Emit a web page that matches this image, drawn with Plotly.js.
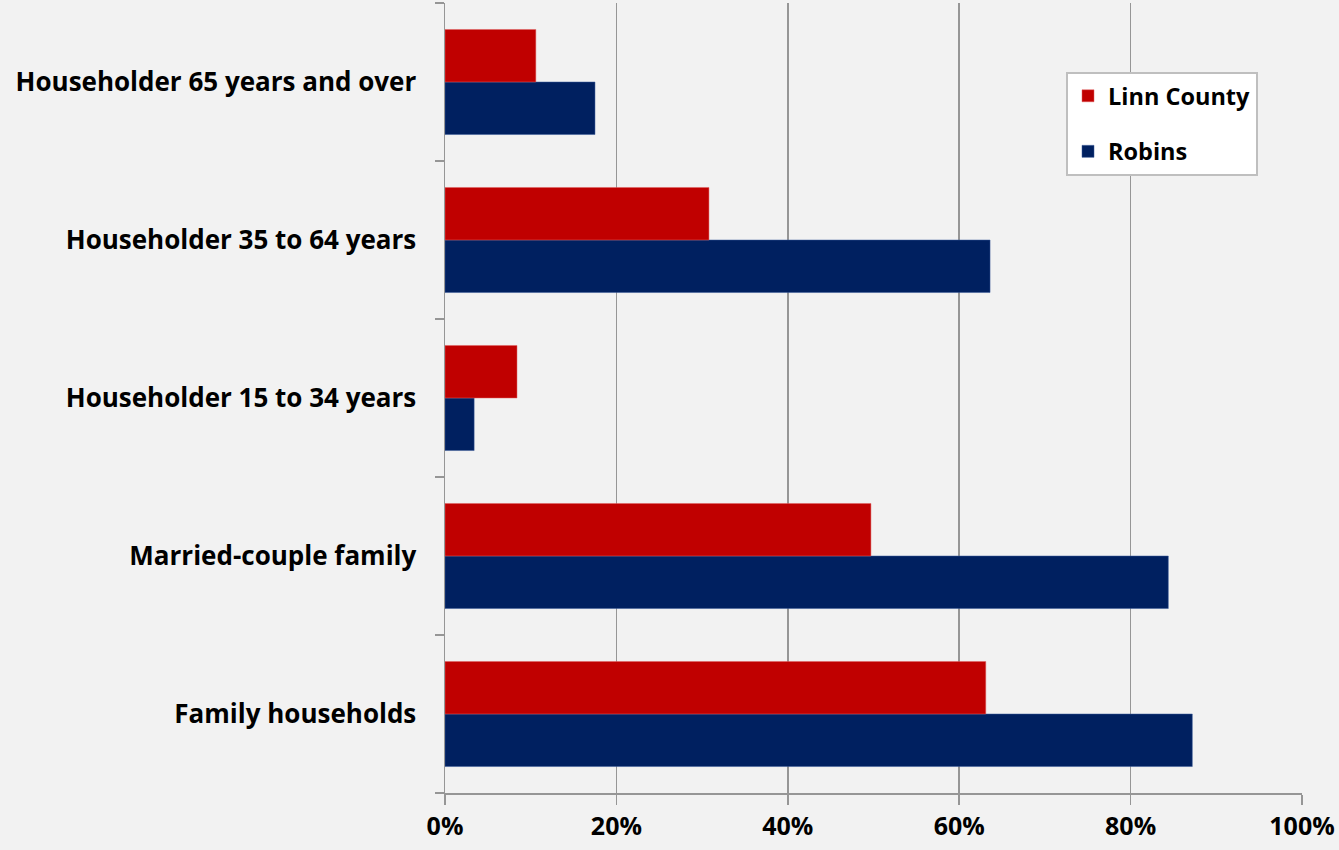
<!DOCTYPE html>
<html>
<head>
<meta charset="utf-8">
<script src="https://cdn.plot.ly/plotly-3.0.1.min.js"></script>
<style>html,body{margin:0;padding:0;background:#f2f2f2;}#chart{width:1339px;height:850px;}</style>
</head>
<body>
<div id="chart"></div>
<script>
const categories = ["Family households", "Married-couple family", "Householder 15 to 34 years", "Householder 35 to 64 years", "Householder 65 years and over"];
const linnCounty = [0.631, 0.497, 0.084, 0.308, 0.106];
const robins = [0.872, 0.844, 0.034, 0.636, 0.175];
const xTickVals = [0, 0.2, 0.4, 0.6, 0.8, 1.0];
const xTickText = ["0%", "20%", "40%", "60%", "80%", "100%"];

const FAM = "'Open Sans', Lato, sans-serif";
const font = {family: FAM, size: 26, color: "#000000", weight: 700};

const traces = [
  {type: "bar", orientation: "h", name: "Robins", y: categories, x: robins, legendgroup: "b", legendrank: 2,
   marker: {color: "#002060", line: {color: "#3a5a9a", width: 0.5}}},
  {type: "bar", orientation: "h", name: "Linn County", y: categories, x: linnCounty, legendgroup: "a", legendrank: 1,
   marker: {color: "#c00000", line: {color: "#e06060", width: 0.5}}}
];

const layout = {
  width: 1339, height: 850,
  paper_bgcolor: "#f2f2f2", plot_bgcolor: "#f2f2f2",
  margin: {l: 445, r: 37, t: 3, b: 57, autoexpand: false},
  barmode: "group", bargap: 0.335, bargroupgap: 0,
  font: font,
  showlegend: true,
  legend: {
    x: (1066 - 445) / 857, xref: "paper", y: (793 - 72) / 790, yref: "paper",
    xanchor: "left", yanchor: "top",
    traceorder: "grouped",
    bgcolor: "#ffffff", bordercolor: "#bfbfbf", borderwidth: 2,
    font: {family: FAM, size: 23.5, color: "#000", weight: 700},
    itemwidth: 30, tracegroupgap: 22
  },
  xaxis: {
    range: [0, 1.0], tickvals: xTickVals, ticktext: xTickText,
    showgrid: true, gridcolor: "#969696", gridwidth: 1.5,
    zeroline: false, showline: true, linecolor: "#969696", linewidth: 1.5,
    ticks: "outside", ticklen: 10, tickcolor: "#969696", tickwidth: 1.5,
    tickfont: {family: FAM, size: 25, color: "#000", weight: 700},
    fixedrange: true
  },
  yaxis: {
    type: "category", tickson: "boundaries",
    showgrid: false, zeroline: false, showline: true, linecolor: "#969696", linewidth: 1.5,
    ticks: "outside", ticklen: 9, tickcolor: "#969696", tickwidth: 1.5,
    ticklabelstandoff: 22,
    tickfont: {family: FAM, size: 26, color: "#000", weight: 700},
    fixedrange: true
  }
};

Plotly.newPlot("chart", traces, layout, {displayModeBar: false, staticPlot: true});
</script>
</body>
</html>
